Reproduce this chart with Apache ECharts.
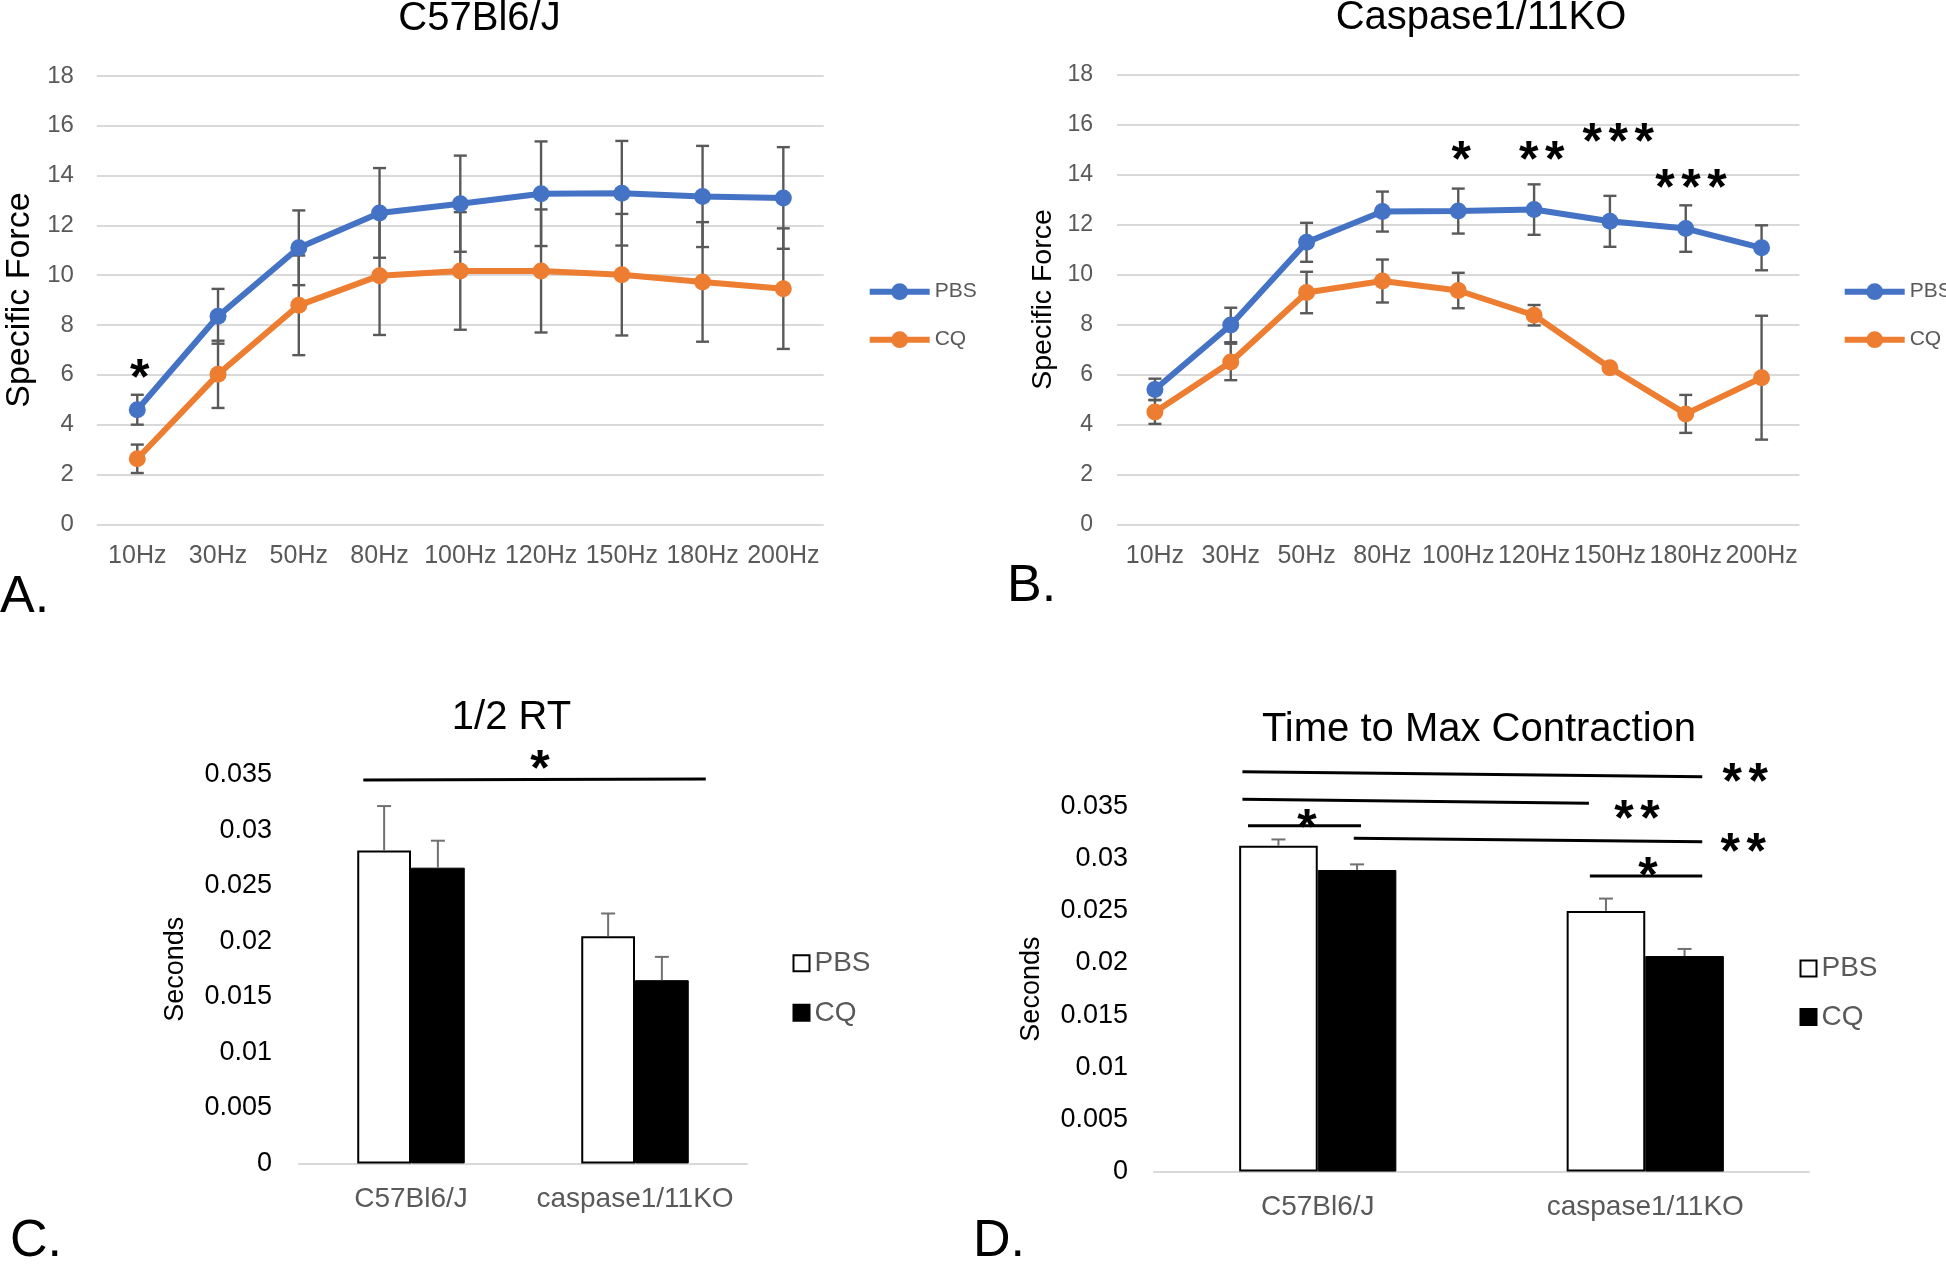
<!DOCTYPE html>
<html><head><meta charset="utf-8">
<script src="https://cdn.jsdelivr.net/npm/echarts@6/dist/echarts.min.js"></script>
<style>
html,body{margin:0;padding:0;background:#fff;width:1946px;height:1264px;overflow:hidden;}
.c{position:absolute;left:0;top:0;width:1946px;height:1264px;}
</style></head><body>
<div id="pa" class="c"></div><div id="pb" class="c"></div><div id="pc" class="c"></div><div id="pd" class="c"></div>
<script>
const FONT = "'Liberation Sans', Arial, Helvetica, sans-serif";

// ---------- data ----------
const hzCategories = ['10Hz','30Hz','50Hz','80Hz','100Hz','120Hz','150Hz','180Hz','200Hz'];
// Panel A: C57Bl6/J
const wtPBS    = [4.6, 8.35, 11.1, 12.5, 12.87, 13.27, 13.29, 13.16, 13.1];
const wtPBSErr = [0.6, 1.1, 1.5, 1.8, 1.93, 2.1, 2.1, 2.03, 2.04];
const wtCQ     = [2.63, 6.02, 8.79, 9.98, 10.17, 10.17, 10.02, 9.73, 9.46];
const wtCQErr  = [0.57, 1.35, 2.0, 2.38, 2.36, 2.47, 2.44, 2.4, 2.42];
const wtStars  = [[0.03, 6.30, 1]];            // [x position (category units), y value, number of stars]
// Panel B: Caspase1/11KO
const koPBS    = [5.4, 7.98, 11.29, 12.52, 12.54, 12.6, 12.13, 11.84, 11.07];
const koPBSErr = [0.43, 0.69, 0.78, 0.8, 0.9, 1.01, 1.02, 0.93, 0.9];
const koCQ     = [4.5, 6.5, 9.28, 9.74, 9.36, 8.37, 6.27, 4.42, 5.87];
const koCQErr  = [0.48, 0.73, 0.83, 0.86, 0.71, 0.41, 0.1, 0.76, 2.48];
const koStars  = [[4.04, 15.01, 1], [5.1, 14.98, 2], [6.11, 15.72, 3], [7.07, 13.89, 3]];

const groupCategories = ['C57Bl6/J', 'caspase1/11KO'];
// Panel C: 1/2 RT
const rtPBS    = [0.0282, 0.02047];
const rtPBSErr = [0.0040, 0.00205];
const rtCQ     = [0.02665, 0.01651];
const rtCQErr  = [0.00243, 0.0021];
const rtSigLines = [[0.287, 0.03455, 1.816, 0.03464]];       // [x1, y1, x2, y2]
const rtSigStars = [[1.076, 0.03651, 1]];
// Panel D: Time to Max Contraction
const tmPBS    = [0.03125, 0.0250];
const tmPBSErr = [0.0006, 0.00118];
const tmCQ     = [0.02892, 0.02067];
const tmCQErr  = [0.00054, 0.00068];
const tmSigLines = [
  [0.270, 0.03835, 1.674, 0.03787],
  [0.270, 0.03570, 1.328, 0.03532],
  [0.287, 0.03317, 0.632, 0.03317],
  [0.610, 0.03196, 1.674, 0.03163],
  [1.331, 0.02835, 1.674, 0.02835]
];
const tmSigStars = [[1.805, 0.03835, 2], [1.475, 0.03484, 2], [0.467, 0.03397, 1], [1.799, 0.03163, 2], [1.508, 0.02933, 1]];

// ---------- helpers ----------
const BLUE = '#4472C4', ORANGE = '#ED7D31', GRAY = '#595959';
const BAR_FRAC = 0.24;

function lineErr(vals, errs) {
  return {
    type: 'custom', silent: true, z: 1,
    data: vals.map((v, i) => [i, v - errs[i], v + errs[i]]),
    renderItem: (p, api) => {
      const lo = api.coord([api.value(0), api.value(1)]);
      const hi = api.coord([api.value(0), api.value(2)]);
      const x = lo[0], w = 6.5;
      const st = { stroke: GRAY, lineWidth: 2.4 };
      return { type: 'group', children: [
        { type: 'line', shape: { x1: x, y1: lo[1], x2: x, y2: hi[1] }, style: st },
        { type: 'line', shape: { x1: x - w, y1: lo[1], x2: x + w, y2: lo[1] }, style: st },
        { type: 'line', shape: { x1: x - w, y1: hi[1], x2: x + w, y2: hi[1] }, style: st }
      ]};
    }
  };
}
function barErr(vals, errs, side) {
  return {
    type: 'custom', silent: true, z: 5,
    data: vals.map((v, i) => [i, v, v + errs[i]]),
    renderItem: (p, api) => {
      const band = api.size([1, 0])[0];
      const b = api.coord([api.value(0), api.value(1)]);
      const t = api.coord([api.value(0), api.value(2)]);
      const x = b[0] + side * band * BAR_FRAC / 2, w = 7;
      const st = { stroke: '#707070', lineWidth: 2 };
      return { type: 'group', children: [
        { type: 'line', shape: { x1: x, y1: b[1], x2: x, y2: t[1] }, style: st },
        { type: 'line', shape: { x1: x - w, y1: t[1], x2: x + w, y2: t[1] }, style: st }
      ]};
    }
  };
}
function starSeries(data, xAxisIndex) {
  return {
    type: 'custom', silent: true, z: 10, xAxisIndex: xAxisIndex, yAxisIndex: 0,
    data: data,
    renderItem: (p, api) => {
      const pt = api.coord([api.value(0), api.value(1)]);
      const n = api.value(2), step = 26, fs = 50;
      const children = [];
      for (let k = 0; k < n; k++) {
        children.push({ type: 'text', x: pt[0] + (k - (n - 1) / 2) * step, y: pt[1] + 0.25 * fs,
          style: { text: '*', fontSize: fs, fontWeight: 'bold', fontFamily: FONT, fill: '#000', align: 'center', verticalAlign: 'middle' } });
      }
      return { type: 'group', children: children };
    }
  };
}
function sigLineSeries(data) {
  return {
    type: 'custom', silent: true, z: 10, xAxisIndex: 1, yAxisIndex: 0,
    data: data,
    renderItem: (p, api) => {
      const a = api.coord([api.value(0), api.value(1)]);
      const b = api.coord([api.value(2), api.value(3)]);
      return { type: 'line', shape: { x1: a[0], y1: a[1], x2: b[0], y2: b[1] }, style: { stroke: '#000', lineWidth: 3 } };
    }
  };
}
function textG(text, x, y, fs, align) {
  return { type: 'text', x: x, y: y, z: 100,
    style: { text: text, fontSize: fs, fontFamily: FONT, fill: '#000', align: align || 'center', verticalAlign: 'middle' } };
}

function linePanel(cfg) {
  return {
    animation: false,
    textStyle: { fontFamily: FONT },
    graphic: [textG(cfg.title, cfg.titleX, cfg.titleY, 40), textG(cfg.letter, cfg.letterX, cfg.letterY, 52, 'left')],
    grid: { left: cfg.grid[0], top: cfg.grid[1], width: cfg.grid[2], height: cfg.grid[3] },
    legend: {
      orient: 'vertical', left: cfg.legendX, top: cfg.legendY, itemWidth: 60, itemHeight: 21, itemGap: 27,
      padding: 0, data: ['PBS', 'CQ'],
      lineStyle: { width: 6 },
      textStyle: { fontSize: 21, color: GRAY, fontFamily: FONT }
    },
    xAxis: [
      { type: 'category', data: hzCategories, boundaryGap: true,
        axisLine: { show: false }, axisTick: { show: false },
        axisLabel: { interval: 0, fontSize: 25, color: GRAY, margin: 19, fontFamily: FONT } },
      { type: 'value', min: -0.5, max: hzCategories.length - 0.5, show: false }
    ],
    yAxis: {
      type: 'value', min: 0, max: 18, interval: 2,
      name: 'Specific Force', nameLocation: 'middle', nameGap: cfg.nameGap,
      nameTextStyle: { fontSize: cfg.nameSize, color: '#000', fontFamily: FONT },
      axisLine: { show: false }, axisTick: { show: false },
      axisLabel: { fontSize: cfg.tickSize, color: GRAY, margin: cfg.tickMargin, fontFamily: FONT },
      splitLine: { lineStyle: { color: '#d9d9d9', width: 2 } }
    },
    series: [
      lineErr(cfg.pbs, cfg.pbsErr),
      lineErr(cfg.cq, cfg.cqErr),
      { name: 'PBS', type: 'line', data: cfg.pbs, symbol: 'circle', symbolSize: 17, z: 3,
        itemStyle: { color: BLUE }, lineStyle: { color: BLUE, width: 6 } },
      { name: 'CQ', type: 'line', data: cfg.cq, symbol: 'circle', symbolSize: 17, z: 3,
        itemStyle: { color: ORANGE }, lineStyle: { color: ORANGE, width: 6 } },
      starSeries(cfg.stars, 1)
    ]
  };
}

function barPanel(cfg) {
  return {
    animation: false,
    textStyle: { fontFamily: FONT },
    graphic: [textG(cfg.title, cfg.titleX, cfg.titleY, 40), textG(cfg.letter, cfg.letterX, cfg.letterY, 52, 'left')],
    grid: { left: cfg.grid[0], top: cfg.grid[1], width: cfg.grid[2], height: cfg.grid[3] },
    legend: {
      orient: 'vertical', left: cfg.legendX, top: cfg.legendY, itemWidth: 16, itemHeight: 16, itemGap: cfg.legendGap,
      padding: 0, icon: 'rect', data: ['PBS', 'CQ'],
      textStyle: { fontSize: 28, color: GRAY, fontFamily: FONT }
    },
    xAxis: [
      { type: 'category', data: groupCategories,
        axisLine: { show: true, lineStyle: { color: '#d9d9d9', width: 2 } }, axisTick: { show: false },
        axisLabel: { interval: 0, fontSize: 28, color: GRAY, margin: cfg.xMargin, fontFamily: FONT } },
      { type: 'value', min: 0, max: groupCategories.length, show: false }
    ],
    yAxis: {
      type: 'value', min: 0, max: 0.035, interval: 0.005,
      name: 'Seconds', nameLocation: 'middle', nameGap: cfg.nameGap,
      nameTextStyle: { fontSize: 27, color: '#000', fontFamily: FONT },
      axisLine: { show: false }, axisTick: { show: false }, splitLine: { show: false },
      axisLabel: { fontSize: 27, color: '#000', margin: cfg.tickMargin, fontFamily: FONT }
    },
    series: [
      { name: 'PBS', type: 'bar', data: cfg.pbs, barWidth: (BAR_FRAC * 100) + '%', barGap: '0%',
        itemStyle: { color: '#fff', borderColor: '#000', borderWidth: 2 } },
      { name: 'CQ', type: 'bar', data: cfg.cq, barWidth: (BAR_FRAC * 100) + '%', barGap: '0%',
        itemStyle: { color: '#000', borderColor: '#000', borderWidth: 1 } },
      barErr(cfg.pbs, cfg.pbsErr, -1),
      barErr(cfg.cq, cfg.cqErr, 1),
      sigLineSeries(cfg.sigLines),
      starSeries(cfg.sigStars, 1)
    ]
  };
}

const optA = linePanel({
  title: 'C57Bl6/J', titleX: 479.5, titleY: 19, letter: 'A.', letterX: 0, letterY: 598,
  grid: [96.9, 75.9, 726.8, 448.4], legendX: 866.7, legendY: 281.2,
  nameGap: 60, nameSize: 34, tickSize: 24, tickMargin: 23,
  pbs: wtPBS, pbsErr: wtPBSErr, cq: wtCQ, cqErr: wtCQErr, stars: wtStars
});
const optB = linePanel({
  title: 'Caspase1/11KO', titleX: 1481, titleY: 18, letter: 'B.', letterX: 1007, letterY: 587,
  grid: [1117, 74.7, 682.5, 449.6], legendX: 1841.7, legendY: 281.2,
  nameGap: 59, nameSize: 28.5, tickSize: 23, tickMargin: 24,
  pbs: koPBS, pbsErr: koPBSErr, cq: koCQ, cqErr: koCQErr, stars: koStars
});
const optC = barPanel({
  title: '1/2 RT', titleX: 511.5, titleY: 718, letter: 'C.', letterX: 10, letterY: 1242,
  grid: [299, 775, 448, 388.4], legendX: 792.5, legendY: 949.3, legendGap: 21.5,
  nameGap: 110, tickMargin: 27, xMargin: 22,
  pbs: rtPBS, pbsErr: rtPBSErr, cq: rtCQ, cqErr: rtCQErr, sigLines: rtSigLines, sigStars: rtSigStars
});
const optD = barPanel({
  title: 'Time to Max Contraction', titleX: 1479, titleY: 729.5, letter: 'D.', letterX: 973, letterY: 1242,
  grid: [1154, 806.6, 655, 365], legendX: 1799.5, legendY: 954.6, legendGap: 20.4,
  nameGap: 109, tickMargin: 26, xMargin: 21.5,
  pbs: tmPBS, pbsErr: tmPBSErr, cq: tmCQ, cqErr: tmCQErr, sigLines: tmSigLines, sigStars: tmSigStars
});

echarts.init(document.getElementById('pa'), null, { renderer: 'canvas' }).setOption(optA);
echarts.init(document.getElementById('pb'), null, { renderer: 'canvas' }).setOption(optB);
echarts.init(document.getElementById('pc'), null, { renderer: 'canvas' }).setOption(optC);
echarts.init(document.getElementById('pd'), null, { renderer: 'canvas' }).setOption(optD);
</script>
</body></html>
